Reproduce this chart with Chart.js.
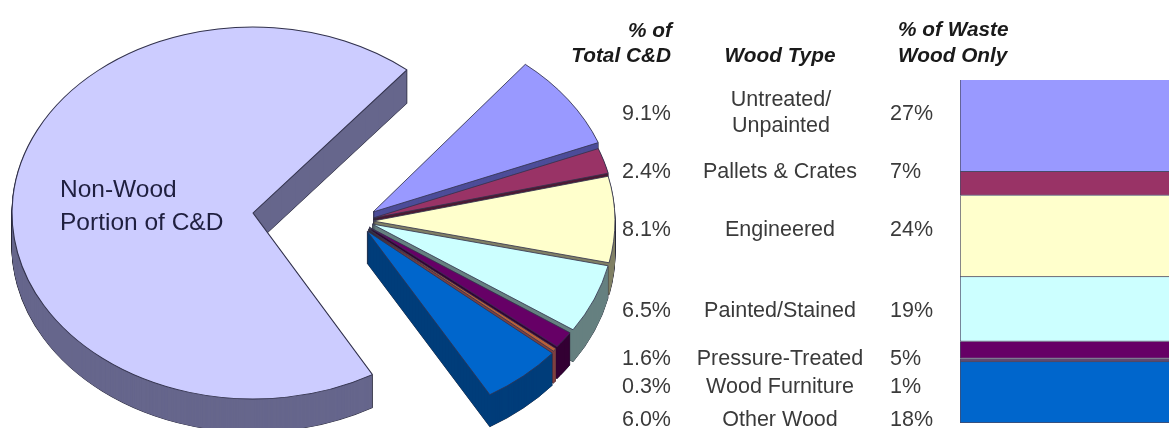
<!DOCTYPE html>
<html>
<head>
<meta charset="utf-8">
<title>Wood waste in C&amp;D</title>
<script src="https://cdn.jsdelivr.net/npm/chart.js"></script>
<style>
    html, body { margin: 0; background: #fff; overflow: hidden; width: 1169px; height: 428px; }
    body { filter: blur(0.5px); }
    canvas { position: absolute; left: 0; top: 0; }
    #barChart { left: 960px; top: 80px; }
    .t { position: absolute; font-family: "Liberation Sans", Arial, sans-serif; font-size: 21.5px; color: #3a3a3a; white-space: nowrap; line-height: 26px; }
    .h { font-weight: bold; font-style: italic; color: #1a1a1a; font-size: 20.8px; }
    .pie { color: #1f1f3f; font-size: 24.5px; line-height: 33px; }
</style>
</head>
<body>
<canvas id="bigPie" width="1169" height="428"></canvas>
<canvas id="woodPie" width="1169" height="428"></canvas>
<canvas id="barChart" width="240" height="343"></canvas>
<div id="labels"></div>
<script>
const woodTypes = ["Untreated/\nUnpainted", "Pallets & Crates", "Engineered", "Painted/Stained", "Pressure-Treated", "Wood Furniture", "Other Wood"];
const totalShare = [9.1, 2.4, 8.1, 6.5, 1.6, 0.3, 6.0];
const wasteShare = [27, 7, 24, 19, 5, 1, 18];
const nonWoodShare = [66];

const topColors = ["#9999ff", "#993366", "#ffffcc", "#ccffff", "#660066", "#b8603a", "#0066cc"];
const barColors = ["#9999ff", "#993366", "#ffffcc", "#ccffff", "#660066", "#5f4a70", "#0066cc"];
const wallColors = ["#4d4d99", "#4d1933", "#808066", "#668080", "#330033", "#804040", "#003d7a"];
const rowY = [113, 171, 229, 310, 358, 386, 419];
// each wedge sits a little lower than the one above it
const wedgeShift = [[1, -8], [1, -2], [1, 1], [0, 4], [-3, 7], [-4, 9], [-5, 11]];

// squashes the pie into an ellipse and adds the side walls
function tilted(cfg) {
    return {
        id: "tilted",
        beforeDatasetsDraw(chart) {
            const ctx = chart.ctx;
            const arcs = chart.getDatasetMeta(0).data;
            arcs.forEach((arc, i) => {
                const o = arc.options;
                const s = cfg.shift ? cfg.shift[i] : [0, 0];
                const sx = cfg.rx / arc.outerRadius;
                const sy = cfg.ry / arc.outerRadius;
                const paint = (d, opts) => {
                    ctx.save();
                    ctx.translate(cfg.cx + s[0], cfg.cy + s[1] + d);
                    ctx.scale(sx, sy);
                    ctx.translate(-arc.x, -arc.y);
                    arc.options = Object.assign({}, o, opts);
                    arc.draw(ctx);
                    ctx.restore();
                };
                for (let d = cfg.depth; d > 0; d--) paint(d, { backgroundColor: cfg.walls[i], borderColor: "#2a2a3a", borderWidth: 1 });
                for (let d = cfg.depth; d > 0; d--) paint(d, { backgroundColor: cfg.walls[i], borderWidth: 0 });
                paint(0, {});
                arc.options = o;
            });
            return false;
        }
    };
}

function pie(id, values, colors, rotation, circumference, cfg) {
    new Chart(document.getElementById(id), {
        type: "pie",
        data: { labels: values.map((v, i) => i), datasets: [{ data: values, backgroundColor: colors, borderColor: "#33334d", borderWidth: 1 }] },
        options: {
            responsive: false,
            animation: false,
            rotation: rotation,
            circumference: circumference,
            plugins: { legend: { display: false }, tooltip: { enabled: false } }
        },
        plugins: [tilted(cfg)]
    });
}

pie("bigPie", nonWoodShare, ["#ccccff"], 150.3, 249.4, { cx: 253, cy: 213, rx: 241, ry: 186, depth: 33, walls: ["#66668c"] });
pie("woodPie", totalShare, topColors, 39, 110.5, { cx: 372, cy: 220, rx: 242, ry: 190, depth: 32, walls: wallColors, shift: wedgeShift });

new Chart(document.getElementById("barChart"), {
    type: "bar",
    data: {
        labels: ["% of Waste Wood Only"],
        datasets: wasteShare.map((v, i) => ({
            label: woodTypes[i],
            data: [v],
            backgroundColor: barColors[i],
            borderColor: "#4a4a66",
            borderWidth: 1,
            barPercentage: 1,
            categoryPercentage: 1
        }))
    },
    options: {
        responsive: false,
        animation: false,
        scales: {
            x: { stacked: true, display: false },
            y: { stacked: true, display: false, reverse: true, min: 0, max: wasteShare.reduce((a, b) => a + b, 0) }
        },
        plugins: { legend: { display: false }, tooltip: { enabled: false } }
    }
});

function addText(text, x, y, align, cls) {
    const el = document.createElement("div");
    el.className = "t " + (cls || "");
    el.textContent = text;
    el.style.top = (y - 13) + "px";
    if (align == "right") el.style.right = (1169 - x) + "px";
    else if (align == "center") { el.style.left = x + "px"; el.style.transform = "translateX(-50%)"; }
    else el.style.left = x + "px";
    document.getElementById("labels").appendChild(el);
}

addText("% of", 672, 30, "right", "h");
addText("Total C&D", 671, 55, "right", "h");
addText("Wood Type", 780, 55, "center", "h");
addText("% of Waste", 898, 29, "left", "h");
addText("Wood Only", 898, 55, "left", "h");
addText("Non-Wood", 60, 185, "left", "pie");
addText("Portion of C&D", 60, 218, "left", "pie");

woodTypes.forEach((name, i) => {
    addText(totalShare[i].toFixed(1) + "%", 671, rowY[i], "right");
    addText(wasteShare[i] + "%", 890, rowY[i], "left");
    const parts = name.split("\n");
    if (parts.length == 2) {
        addText(parts[0], 781, rowY[i] - 14, "center");
        addText(parts[1], 781, rowY[i] + 12, "center");
    } else {
        addText(name, 780, rowY[i], "center");
    }
});
</script>
</body>
</html>
